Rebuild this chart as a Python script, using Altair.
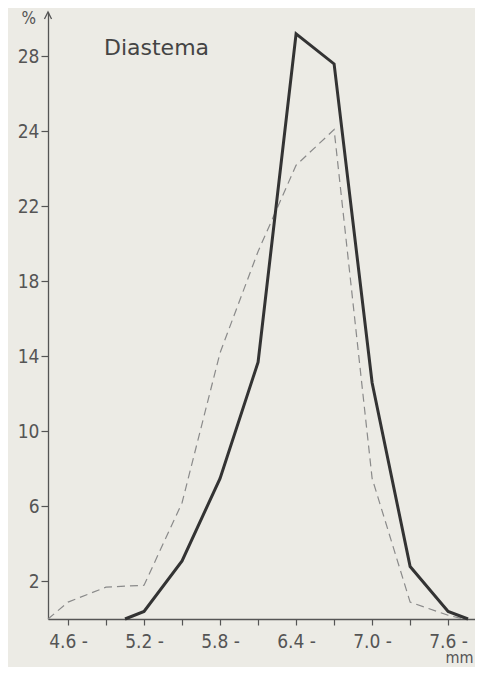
import altair as alt
import pandas as pd

# Thick solid series (x = class lower bound in mm, y = %)
solid_x = [5.05, 5.2, 5.5, 5.8, 6.1, 6.4, 6.7, 7.0, 7.3, 7.6, 7.757]
solid_y = [0.0, 0.4, 3.1, 7.5, 13.7, 31.2, 29.6, 12.6, 2.8, 0.4, 0.0]

# Thin dashed series
dash_x = [4.442, 4.6, 4.9, 5.2, 5.5, 5.8, 6.1, 6.4, 6.7, 7.0, 7.3, 7.6, 7.72]
dash_y = [0.0, 0.9, 1.7, 1.8, 6.2, 14.2, 19.6, 24.2, 26.1, 7.5, 0.9, 0.2, 0.0]

# Axis ticks and printed labels
x_ticks = [4.6, 4.9, 5.2, 5.5, 5.8, 6.1, 6.4, 6.7, 7.0, 7.3, 7.6]
x_labeled = ["4.6", "5.2", "5.8", "6.4", "7.0", "7.6"]
y_ticks = [2, 6, 10, 14, 18, 22, 26, 30]
y_labels = ["2", "6", "10", "14", "18", "22", "24", "28"]

X_DOMAIN = [4.442, 7.812]
Y_DOMAIN = [0, 32.37]
FONT = "DejaVu Sans Condensed"
INK = "#555555"
PAD = "\u00a0\u00a0"

solid_df = pd.DataFrame({"x": solid_x, "y": solid_y})
dash_df = pd.DataFrame({"x": dash_x, "y": dash_y})

x_expr = " : ".join(
    [f"format(datum.value, '.1f') == '{l}' ? '{PAD}{l} -'" for l in x_labeled] + ["''"]
)
y_expr = " : ".join(
    [f"datum.value == {v} ? '{l}'" for v, l in zip(y_ticks, y_labels)] + ["datum.label"]
)

x_enc = alt.X(
    "x:Q",
    scale=alt.Scale(domain=X_DOMAIN, nice=False, zero=False),
    axis=alt.Axis(
        values=x_ticks,
        labelExpr=x_expr,
        grid=False,
        tickSize=6,
        labelPadding=7,
        labelAlign="center",
        labelFont=FONT,
        labelFontSize=19,
        labelColor=INK,
        labelFlush=False,
        labelOverlap=False,
        domainColor=INK,
        domainWidth=1.3,
        tickColor=INK,
        tickWidth=1.2,
        title="mm",
        titleFont=FONT,
        titleFontSize=16,
        titleFontWeight="normal",
        titleColor=INK,
        titleAnchor="end",
        titleAlign="right",
        titleBaseline="top",
        titleX=425,
        titleY=30,
    ),
)
y_enc = alt.Y(
    "y:Q",
    scale=alt.Scale(domain=Y_DOMAIN, nice=False, zero=True),
    axis=alt.Axis(
        values=y_ticks,
        labelExpr=y_expr,
        grid=False,
        tickSize=7,
        labelPadding=2,
        labelFont=FONT,
        labelFontSize=19,
        labelColor=INK,
        domainColor=INK,
        domainWidth=1.3,
        tickColor=INK,
        tickWidth=1.2,
        title="%",
        titleFont=FONT,
        titleFontSize=17,
        titleFontWeight="normal",
        titleColor=INK,
        titleAngle=0,
        titleAlign="left",
        titleBaseline="top",
        titleX=-27,
        titleY=-2,
    ),
)

dashed = alt.Chart(dash_df).mark_line(
    color="#8a8a8a", strokeWidth=1.2, strokeDash=[8, 5]
).encode(x=x_enc, y=y_enc)

solid = alt.Chart(solid_df).mark_line(
    color="#333333", strokeWidth=3, strokeJoin="miter"
).encode(x="x:Q", y="y:Q")

arrow = alt.Chart(pd.DataFrame({"a": [0]})).mark_point(
    shape="M-1,1L0,-1L1,1", size=50, filled=False, stroke=INK, strokeWidth=1.3, opacity=1
).encode(x=alt.value(0), y=alt.value(3.5))

title = alt.Chart(pd.DataFrame({"t": ["Diastema"]})).mark_text(
    font="DejaVu Sans", fontSize=22, color="#444444", align="left", baseline="alphabetic"
).encode(text="t:N", x=alt.value(56), y=alt.value(43))

chart = (
    alt.layer(dashed, solid, arrow, title)
    .properties(
        width=427,
        height=607,
        background="#ecebe5",
        autosize=alt.AutoSizeParams(type="none"),
        padding={"left": 40, "top": 4, "right": 0, "bottom": 48},
    )
    .configure_view(stroke=None)
)

chart.save("out.html", embed_options={"renderer": "svg", "actions": False})
